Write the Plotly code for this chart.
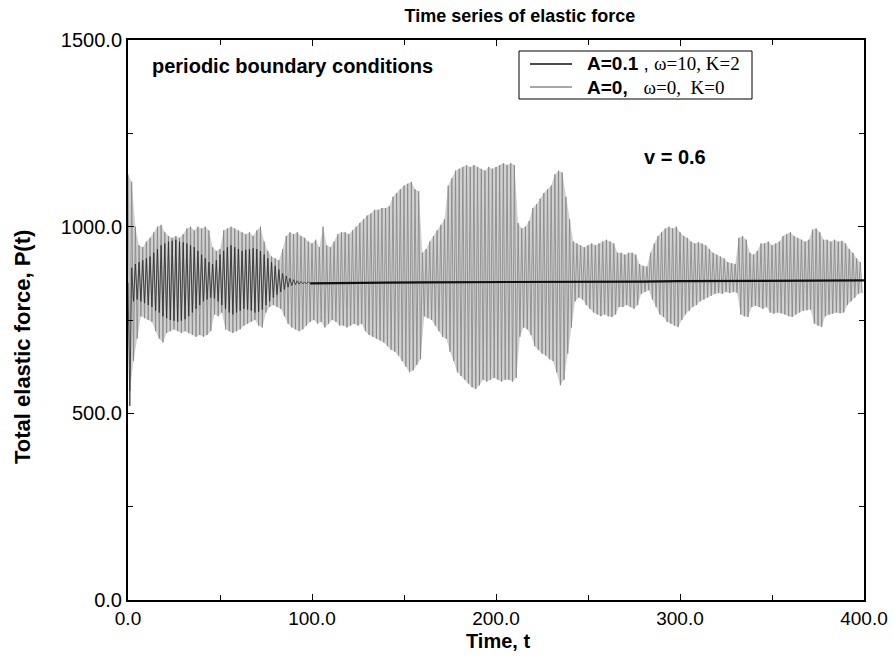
import plotly.graph_objects as go

# ---------------- data ----------------
# A=0 (gray): local maxima at t = 0,2,4,...,398 and minima at t = 1,3,...,399
gray_upper = [
    1140, 1120, 1000, 950, 945, 960, 970, 985, 1000, 1005,
    985, 975, 970, 975, 970, 980, 995, 1000, 990, 1000,
    995, 1000, 990, 945, 935, 940, 990, 995, 1000, 995,
    990, 985, 980, 985, 975, 990, 1000, 960, 935, 920,
    915, 910, 940, 975, 985, 980, 985, 975, 970, 960,
    955, 965, 945, 1000, 950, 945, 960, 980, 985, 985,
    980, 990, 1000, 1010, 1020, 1030, 1035, 1045, 1045, 1050,
    1050, 1055, 1080, 1090, 1100, 1110, 1115, 1120, 1100, 1095,
    930, 940, 960, 975, 990, 1005, 1020, 1110, 1130, 1150,
    1155, 1160, 1165, 1160, 1165, 1160, 1155, 1150, 1160, 1155,
    1160, 1165, 1170, 1165, 1170, 1165, 1010, 995, 1000, 1015,
    1050, 1060, 1075, 1090, 1100, 1110, 1140, 1150, 1145, 1080,
    1020, 960, 955, 950, 945, 950, 955, 950, 955, 960,
    965, 960, 955, 930, 930, 925, 930, 930, 925, 900,
    895, 893, 930, 955, 975, 985, 995, 1000, 995, 1000,
    985, 975, 970, 960, 955, 958, 955, 950, 940, 930,
    925, 920, 915, 905, 902, 900, 970, 975, 965, 930,
    925, 935, 955, 955, 960, 950, 955, 960, 975, 980,
    985, 975, 970, 965, 960, 965, 992, 995, 985, 965,
    965, 960, 965, 960, 962, 955, 940, 930, 915, 905,
]
gray_lower = [
    560, 640, 700, 760, 755, 750, 745, 720, 700, 690,
    715, 720, 725, 720, 715, 720, 715, 710, 705, 710,
    705, 710, 720, 765, 760, 770, 725, 720, 715, 720,
    725, 735, 740, 745, 750, 735, 730, 770, 785, 790,
    785, 780, 760, 740, 730, 725, 720, 725, 735, 745,
    750, 740, 745, 730, 740, 750, 745, 735, 735, 730,
    735, 740, 735, 740, 720, 710, 705, 700, 695, 690,
    680, 670, 665, 655, 640, 625, 610, 615, 630, 645,
    760, 755, 750, 735, 720, 705, 700, 665, 640, 610,
    600, 590, 580, 570, 565, 575, 590, 585, 590, 595,
    590, 585, 590, 590, 585, 595, 705, 730, 725, 710,
    680, 670, 660, 655, 645, 640, 610, 575, 590, 660,
    730, 800, 810, 805, 790, 780, 770, 765, 760, 765,
    760, 758, 765, 785, 785, 790, 785, 780, 790, 820,
    825, 830, 805, 785, 765, 758, 745, 740, 735, 731,
    750, 765, 775, 785, 790, 800, 805, 810, 815, 820,
    822, 820, 825, 822, 825, 823, 765, 760, 758, 785,
    788, 785, 780, 785, 770, 767, 770, 768, 765, 760,
    758, 765, 770, 775, 776, 778, 740, 735, 731, 760,
    765, 767, 770, 768, 770, 790, 800, 810, 820, 822,
]

# A=0.1 (black): oscillating part, maxima at t = 0,2,...,98, minima at t = 1,3,...,99
black_upper = [
    850, 890, 900, 905, 910, 915, 920, 930, 940, 950,
    955, 960, 962, 965, 960, 958, 955, 950, 945, 935,
    925, 915, 905, 900, 910, 925, 935, 945, 950, 945,
    940, 935, 938, 940, 942, 940, 935, 925, 915, 905,
    895, 885, 875, 868, 862, 858, 855, 853, 852, 852,
]
black_lower = [
    520, 800, 805, 800, 795, 790, 785, 775, 770, 760,
    755, 750, 748, 745, 748, 752, 760, 770, 780, 790,
    800, 805, 810, 808, 800, 790, 780, 770, 765, 770,
    775, 780, 778, 775, 770, 772, 778, 790, 800, 810,
    818, 825, 832, 838, 842, 845, 846, 847, 847, 848,
]
# A=0.1 (black): settled part
black_tail_t = [99, 120, 140, 160, 180, 200, 220, 240, 260, 280,
                300, 320, 340, 360, 380, 400]
black_tail_v = [848, 850, 850, 851, 851, 852, 852, 852, 853, 853,
                854, 854, 855, 855, 856, 856]

x_tick_vals = [0, 100, 200, 300, 400]
x_tick_text = ["0.0", "100.0", "200.0", "300.0", "400.0"]
y_tick_vals = [0, 500, 1000, 1500]
y_tick_text = ["0.0", "500.0", "1000.0", "1500.0"]

legend_labels = [
    "<b>A=0.1</b> , <span style='font-family:Liberation Serif'>ω=10, K=2</span>",
    "<b>A=0,</b>   <span style='font-family:Liberation Serif'>ω=0,  K=0</span>",
]
legend_colors = ["#111111", "#8a8a8a"]


def zigzag(upper, lower):
    ts, vs = [], []
    for i, (u, l) in enumerate(zip(upper, lower)):
        ts += [2 * i, 2 * i + 1]
        vs += [u, l]
    return ts, vs


gt, gv = zigzag(gray_upper, gray_lower)
bt, bv = zigzag(black_upper, black_lower)

band_t = [2 * i for i in range(len(gray_upper))] + [2 * i + 1 for i in range(len(gray_lower))][::-1]
band_v = list(gray_upper) + list(gray_lower)[::-1]

SANS = "Liberation Sans, Arial, Helvetica, sans-serif"

# pixel helpers for the plot frame (x 128..864, y 40..600)
L, R, T, B = 128, 864, 40, 600


def px(x):
    return (x - L) / (R - L)


def py(y):
    return (B - y) / (B - T)


fig = go.Figure()
fig.add_trace(go.Scatter(
    x=band_t, y=band_v, mode="lines", fill="toself", fillcolor="#d2d2d2",
    line=dict(width=0, color="#d2d2d2"), showlegend=False, hoverinfo="skip"))
fig.add_trace(go.Scatter(
    x=gt, y=gv, mode="lines", line=dict(color="#848484", width=0.8),
    name="A=0, ω=0, K=0", showlegend=False))
fig.add_trace(go.Scatter(
    x=bt, y=bv, mode="lines", line=dict(color="#2a2a2a", width=0.8),
    showlegend=False, hoverinfo="skip"))
fig.add_trace(go.Scatter(
    x=black_tail_t, y=black_tail_v, mode="lines", line=dict(color="#111111", width=2.2),
    name="A=0.1, ω=10, K=2", showlegend=False))

shapes = [
    dict(type="rect", xref="paper", yref="paper", x0=px(519), x1=px(752), y0=py(99), y1=py(51),
         line=dict(color="black", width=1), fillcolor="white", layer="above"),
]
annotations = []
for i, (lab, col) in enumerate(zip(legend_labels, legend_colors)):
    yy = 64 + 23 * i
    shapes.append(dict(type="line", xref="paper", yref="paper", x0=px(530), x1=px(572),
                       y0=py(yy), y1=py(yy), line=dict(color=col, width=1.4), layer="above"))
    annotations.append(dict(text=lab, xref="paper", yref="paper", x=px(585), y=py(yy),
                            xanchor="left", yanchor="middle", showarrow=False,
                            font=dict(size=19, family=SANS)))

annotations += [
    dict(text="<b>periodic boundary conditions</b>", xref="paper", yref="paper",
         x=px(150), y=py(66), xanchor="left", yanchor="middle",
         showarrow=False, font=dict(size=20, family=SANS)),
    dict(text="<b>v = 0.6</b>", xref="paper", yref="paper",
         x=px(642), y=py(157), xanchor="left", yanchor="middle",
         showarrow=False, font=dict(size=20, family=SANS)),
    dict(text="<b>Time, t</b>", xref="paper", yref="paper",
         x=px(498), y=py(641), xanchor="center", yanchor="middle",
         showarrow=False, font=dict(size=20, family=SANS)),
    dict(text="<b>Total elastic force, P(t)</b>", xref="paper", yref="paper",
         x=px(22), y=py(347), xanchor="center", yanchor="middle", textangle=-90,
         showarrow=False, font=dict(size=22, family=SANS)),
]

fig.update_layout(
    width=893, height=657,
    margin=dict(l=L, r=893 - R, t=T, b=657 - B),
    paper_bgcolor="white", plot_bgcolor="white",
    font=dict(family=SANS, color="black", size=15),
    title=dict(text="<b>Time series of elastic force</b>", x=px(520), xref="paper",
               xanchor="center", y=1 - 16 / 657, yanchor="middle",
               font=dict(size=18, family=SANS)),
    showlegend=False,
    shapes=shapes,
    annotations=annotations,
)

fig.update_xaxes(
    range=[0, 400], tickvals=x_tick_vals, ticktext=x_tick_text, automargin=False,
    showgrid=False, zeroline=False, showline=True, linecolor="black", linewidth=2,
    mirror="ticks", ticks="inside", ticklen=6, tickcolor="black", tickwidth=1,
    minor=dict(dtick=50, tick0=0, ticks="inside", ticklen=5, tickcolor="black", showgrid=False),
    tickfont=dict(size=19, family=SANS),
)
fig.update_yaxes(
    range=[0, 1500], tickvals=y_tick_vals, ticktext=y_tick_text, automargin=False,
    showgrid=False, zeroline=False, showline=True, linecolor="black", linewidth=2,
    mirror="ticks", ticks="inside", ticklen=6, tickcolor="black", tickwidth=1,
    minor=dict(dtick=250, tick0=0, ticks="inside", ticklen=5, tickcolor="black", showgrid=False),
    tickfont=dict(size=20, family=SANS),
)

fig.write_html("out.html", config={"displayModeBar": False},
               post_script="document.body.style.margin='0px';")
